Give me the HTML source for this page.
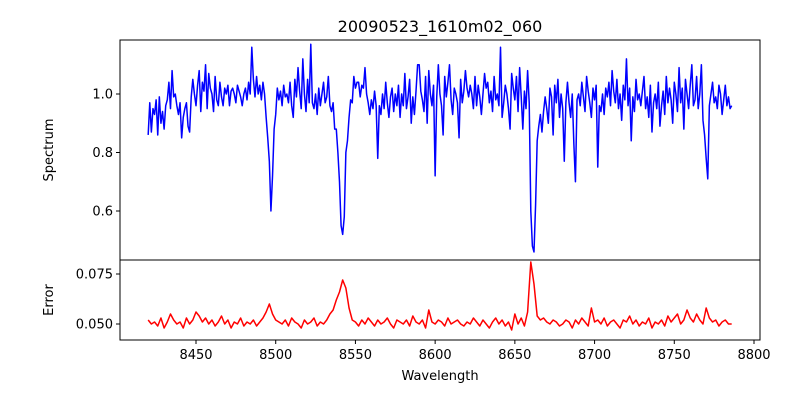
<!DOCTYPE html>
<html><head><meta charset="utf-8"><style>
body{margin:0;background:#fff}
svg text{font-family:"DejaVu Sans","Liberation Sans",sans-serif;fill:#000}
</style></head><body>
<svg id="chart" width="800" height="400" xmlns="http://www.w3.org/2000/svg">
<rect width="800" height="400" fill="#fff"/>
<text x="440" y="32" font-size="16" text-anchor="middle">20090523_1610m02_060</text>
<g id="topPanel"></g>
<g id="botPanel"></g>
<text x="440" y="380" font-size="13" text-anchor="middle">Wavelength</text>
<text transform="translate(53,150) rotate(-90)" font-size="13" text-anchor="middle">Spectrum</text>
<text transform="translate(53,300) rotate(-90)" font-size="13" text-anchor="middle">Error</text>
</svg>
<script>
const specStart = 8420;
const specStep = 1;
const spectrum = [
.86,.97,.87,.95,.93,.98,.86,.99,.90,.94,
.88,.96,.98,1.04,.95,1.08,.99,1.00,.96,.93,
.97,.85,.92,.95,.97,.89,.87,.99,1.05,1.00,
.96,1.03,1.08,.94,1.04,1.01,1.10,.95,1.07,1.02,
1.00,.94,1.06,.98,.96,1.04,.99,.96,1.02,1.00,
1.03,.96,1.01,1.02,1.00,.97,1.03,1.01,.99,.96,
1.00,1.02,.98,1.04,1.00,1.16,1.05,.99,1.06,1.00,
1.03,.98,1.04,1.00,.92,.85,.77,.60,.72,.88,
.93,1.02,.98,1.01,.96,1.03,.99,1.00,.97,1.04,
.96,.92,1.05,.99,1.09,1.01,.95,1.12,1.00,.94,
1.05,.97,1.17,.97,.95,1.00,.93,1.02,.96,1.00,
1.04,.97,.99,1.06,.96,.94,.97,.88,.88,.80,
.70,.55,.52,.58,.80,.84,.92,.98,.97,1.06,
1.02,1.04,1.04,.99,1.03,1.02,1.09,1.00,.97,.93,
.98,.95,1.01,.96,.78,.96,.93,1.00,.95,1.04,
.97,.92,.99,1.02,.94,1.00,.96,1.03,.92,1.00,
.96,1.07,.95,.99,1.05,.90,.99,.93,1.01,1.10,
1.10,1.01,.98,.94,1.06,.90,1.08,1.00,.96,1.03,
.72,.99,1.10,1.00,.96,.86,1.06,.99,1.04,1.10,
.98,.93,1.02,1.00,.97,.85,1.05,.97,1.01,1.08,
1.02,.99,1.03,1.00,.95,1.06,.96,1.03,.99,.93,
1.00,1.07,1.02,1.04,.97,1.01,.94,1.06,.98,1.00,
.96,1.16,.92,.97,1.03,1.00,.95,.88,1.07,1.02,
.98,1.06,.94,1.09,.99,.88,1.01,.95,1.08,.97,
.60,.48,.46,.62,.84,.89,.93,.87,.94,.99,
.95,.90,1.02,.99,.86,1.03,.97,1.05,.92,1.00,
.95,.77,.97,1.04,.97,.92,1.00,.83,.70,.98,
1.00,.96,1.04,.99,.94,1.06,1.01,.97,.92,1.02,
.98,1.03,.75,.96,.94,1.00,.93,1.02,.99,1.04,
.96,1.08,1.01,.97,1.05,.95,1.00,.91,1.03,.98,
1.12,.96,1.02,.84,.99,.94,1.05,.98,1.00,.96,
1.01,1.06,.95,.99,.92,1.03,.87,.97,1.00,.95,
1.04,.89,.96,1.01,.93,1.06,.97,1.02,.98,.90,
1.04,1.00,.94,1.09,.97,1.02,.88,1.05,1.00,.95,
1.03,1.10,.96,.98,1.06,.95,1.00,1.10,.91,.86,
.78,.71,.96,1.00,1.04,.97,.99,.95,1.03,1.00,
.93,.98,1.03,.96,.99,.95,.96];
const errStart = 8420;
const errStep = 2;
const errorMilli = [
52,50,51,49,53,48,51,55,52,50,
51,48,53,50,52,56,54,51,53,50,
52,49,51,54,50,52,48,51,50,53,
49,51,50,52,49,51,53,56,60,55,
52,51,50,52,49,53,51,50,48,52,
50,51,53,49,51,50,52,55,57,62,
66,72,68,58,52,51,49,52,50,53,
51,49,52,50,51,53,50,48,52,51,
50,52,49,54,51,50,52,48,57,51,
50,52,51,49,53,50,51,52,50,49,
51,50,53,51,49,52,50,48,51,53,
50,52,49,51,47,55,50,53,49,56,
81,70,54,52,53,51,50,52,51,49,
50,52,51,48,52,50,53,51,49,58,
51,52,50,53,49,51,52,50,48,52,
51,54,50,52,49,51,50,53,48,51,
50,52,49,54,51,53,55,50,52,57,
53,51,55,52,50,58,53,51,52,49,
51,52,50,50];
const xTicks = [8450,8500,8550,8600,8650,8700,8750,8800];
const specTicks = [0.6,0.8,1.0];
const errTicks = [0.050,0.075];

const NS="http://www.w3.org/2000/svg";
const L=120,R=760;
const X=v=>196+(v-8450)*(558/350);
const YS=v=>94-(v-1.0)*292.5;
const YE=v=>324-(v-0.050)*2000;
function mk(p,t,a){const e=document.createElementNS(NS,t);for(const k in a)e.setAttribute(k,a[k]);p.appendChild(e);return e;}
const topG=document.getElementById('topPanel'),botG=document.getElementById('botPanel');

let d='';spectrum.forEach((v,i)=>{d+=(i?'L':'M')+X(specStart+i*specStep).toFixed(2)+','+YS(v).toFixed(2);});
const sl=mk(topG,'path',{d:d,fill:'none',stroke:'#0000ff','stroke-width':1.5,'stroke-linejoin':'round'});


d='';errorMilli.forEach((v,i)=>{d+=(i?'L':'M')+X(errStart+i*errStep).toFixed(2)+','+YE(v/1000).toFixed(2);});
const el=mk(botG,'path',{d:d,fill:'none',stroke:'#ff0000','stroke-width':1.5,'stroke-linejoin':'round'});



const f1=mk(topG,'rect',{x:L,y:40,width:R-L,height:220,fill:'none',stroke:'#000','stroke-width':1});


const f2=mk(botG,'rect',{x:L,y:260,width:R-L,height:80,fill:'none',stroke:'#000','stroke-width':1});



specTicks.forEach(v=>{const y=YS(v);mk(topG,'line',{x1:L-4,x2:L,y1:y,y2:y,stroke:'#000'});
const t=mk(topG,'text',{x:L-7,y:y+4.5,'font-size':13,'text-anchor':'end'});t.textContent=v.toFixed(1);

});
errTicks.forEach(v=>{const y=YE(v);mk(botG,'line',{x1:L-4,x2:L,y1:y,y2:y,stroke:'#000'});
const t=mk(botG,'text',{x:L-7,y:y+4.5,'font-size':13,'text-anchor':'end'});t.textContent=v.toFixed(3);

});
xTicks.forEach(v=>{const x=X(v);mk(botG,'line',{x1:x,x2:x,y1:340,y2:344,stroke:'#000'});
const t=mk(botG,'text',{x:x,y:359,'font-size':13,'text-anchor':'middle'});t.textContent=v;

});
</script>
</body></html>
